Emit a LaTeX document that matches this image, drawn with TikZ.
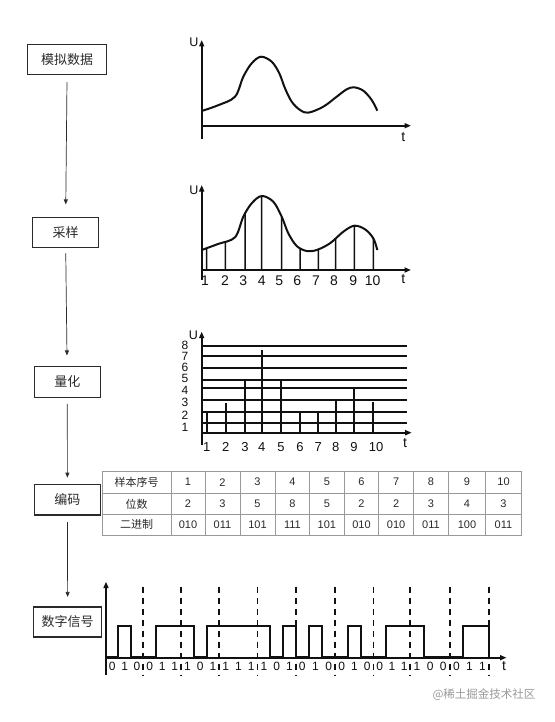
\documentclass[tikz,border=0pt]{standalone}
\usepackage{fontspec}
\setmainfont{Liberation Sans}
\newfontfamily\cjk{Noto Sans CJK SC}
\usetikzlibrary{arrows.meta,intersections}
\definecolor{ink}{HTML}{111111}
\definecolor{boxink}{HTML}{2A2A2A}
\definecolor{gridgray}{HTML}{999999}
\begin{document}
\begin{tikzpicture}[x=1pt,y=-1pt,
  stepbox/.style={draw=boxink, line width=1.1pt, minimum height=30pt, inner sep=0pt, text=boxink, font=\cjk\fontsize{13}{13}\selectfont},
  conn/.style={draw=boxink, line width=0.7pt, -{Triangle[length=5pt,width=4pt]}},
  axis/.style={draw=ink, line width=1.8pt, -{Triangle[length=6.5pt,width=5pt]}},
  wave/.style={draw=ink, line width=2pt, line join=round},
  sample/.style={draw=ink, line width=1.5pt},
  lvl/.style={draw=ink, line width=1.8pt},
  glab/.style={inner sep=0pt, text=ink, font=\fontsize{14}{14}\selectfont},
  ulab/.style={inner sep=0pt, text=ink, font=\fontsize{12.5}{12.5}\selectfont},
  qlab/.style={inner sep=0pt, text=ink, font=\fontsize{13}{13}\selectfont},
  llab/.style={inner sep=0pt, text=ink, font=\fontsize{12}{12}\selectfont},
  blab/.style={inner sep=0pt, text=ink, font=\fontsize{12}{12}\selectfont},
  tgrid/.style={draw=gridgray, line width=1pt},
  tcjk/.style={inner sep=0pt, text=boxink, font=\cjk\fontsize{11}{11}\selectfont},
  tnum/.style={inner sep=0pt, text=boxink, font=\fontsize{11}{11}\selectfont},
  clk/.style={draw=ink, line width=1.8pt, dash pattern=on 6pt off 5pt},
  wmark/.style={inner sep=0pt, text=black!40, font=\cjk\fontsize{11.5}{11.5}\selectfont},
]
\useasboundingbox (0,0) rectangle (554,722);
\fill[white] (0,0) rectangle (554,722);

% ---------- left flow ----------
\node[stepbox, minimum width=79pt] (m1) at (67.2,59.7) {模拟数据};
\node[stepbox, minimum width=66.4pt] (m2) at (65.5,232.3) {采样};
\node[stepbox, minimum width=66pt, minimum height=30.6pt] (m3) at (67.3,382) {量化};
\node[stepbox, minimum width=66pt, minimum height=30.8pt] (m4) at (67.4,499.6) {编码};
\node[stepbox, minimum width=68pt] (m5) at (67.7,622) {数字信号};

\draw[conn, shorten <=7pt, shorten >=12.3pt] (m1) -- (m2);
\draw[conn, shorten <=5.4pt, shorten >=10.7pt] (m2) -- (m3);
\draw[conn, shorten <=6pt, shorten >=6pt] (m3) -- (m4);
\draw[conn, shorten <=6.5pt, shorten >=9.5pt] (m4) -- (m5);

% ---------- graph 1: analog ----------
\draw[axis] (201.7,139.3) -- (201.7,40);
\draw[axis] (201.7,125.7) -- (411,125.7);
\node[ulab] (u1) at (194,42.7) {U};
\node[glab] (t1) at (403.3,137.3) {t};
\draw[wave] plot[smooth,tension=0.55] coordinates {
 (201.7,111) (218,105.3) (235,96.7) (243.3,76.7) (251.7,63.3) (261,56.7)
 (271.7,61.7) (279.3,73.3) (285,88.3) (291.7,101.7) (300,110) (308.3,112.7)
 (323.3,106.7) (336.7,96.7) (346.7,89.3) (354,87.3) (363.3,90.7) (371.7,100) (377.3,110.7)};

% ---------- graph 2: sampling ----------
\draw[axis] (201.7,280) -- (201.7,185);
\draw[axis] (201.7,270) -- (411,270);
\node[ulab] (u2) at (194,190.7) {U};
\node[glab] (t2) at (403.3,279.3) {t};
\draw[wave, name path=c2] plot[smooth,tension=0.55] coordinates {
 (201.7,250) (218,244) (235,237.3) (243.3,216.7) (251.7,203.3) (261.7,196)
 (273.3,201.7) (281.7,216.7) (288.3,233.3) (296.7,246) (306.7,251) (316.7,250)
 (330,243.3) (343.3,231.7) (354.3,225.7) (365,229.3) (373.3,238.3) (377.3,250)};
\foreach \x in {206.7,225.3,245,261.7,281.7,300,318.3,335.7,354.3,373.3} {
  \path[name path=vl] (\x,271) -- (\x,180);
  \draw[sample, name intersections={of=c2 and vl, by=ip}] (\x,270) -- (ip);
}
\foreach \x/\n in {205/1,225/2,243.3/3,261.7/4,279.3/5,297.3/6,316/7,334/8,353.3/9,372.7/10}
  \node[glab] (s\n) at (\x,280.5) {\n};

% ---------- graph 3: quantization ----------
\foreach \y in {345.7,355.7,367.7,380,388.3,400,411.7,423.3}
  \draw[lvl] (201.7,\y) -- (406.7,\y);
\draw[axis] (201.7,445) -- (201.7,331.7);
\draw[axis] (201.7,432.7) -- (411.7,432.7);
\node[ulab] (u3) at (193.3,335) {U};
\node[glab] (t3) at (405,442.7) {t};
\foreach \y/\n in {427.3/1,415/2,402/3,390/4,378.5/5,367/6,356.5/7,345.5/8}
  \node[llab] (q\n) at (185,\y) {\n};
\foreach \x/\y in {206.7/412.7,225.7/403.3,245/380,261.7/350,281/380,300/411.7,318.3/412.7,335.7/400,354/388.3,372.7/402.3}
  \draw[lvl] (\x,432.7) -- (\x,\y);
\foreach \x/\n in {206.7/1,225.7/2,245/3,261.7/4,281/5,300/6,318.3/7,335.7/8,354/9,376/10}
  \node[qlab] (r\n) at (\x,447) {\n};

% ---------- table ----------
\draw[tgrid] (102.3,471) rectangle (521.4,535);
\foreach \y in {493.3,514.3} \draw[tgrid] (102.3,\y) -- (521.4,\y);
\foreach \x in {171,205,240,275,309.7,344.1,378.9,413.3,448.4,485.6} \draw[tgrid] (\x,471) -- (\x,535);
\node[tcjk] (h1) at (136.7,482.2) {样本序号};
\node[tcjk] (h2) at (136.7,503.8) {位数};
\node[tcjk] (h3) at (136.7,524.7) {二进制};
\foreach \x/\a/\b/\c in {188/1/2/010,222.5/2/3/011,257.5/3/5/101,292.4/4/8/111,326.9/5/5/101,361.5/6/2/010,396.1/7/2/010,430.9/8/3/011,467/9/4/100,503.5/10/3/011} {
  \node[tnum] (ka\a) at (\x,482.2) {\a};
  \node[tnum] (kb\a) at (\x,503.8) {\b};
  \node[tnum] (kc\a) at (\x,524.7) {\c};
}

% ---------- graph 4: digital signal ----------
\foreach \x in {143.3,181.1,219.3,257.5,295.7,335.3,373.5,410.3,449.9,489.1}
  \draw[clk] (\x,586.7) -- (\x,675);
\draw[axis] (106,675) -- (106,581.7);
\draw[axis] (106,657.7) -- (506.5,657.7);
\node[glab] (t4) at (504,665.8) {t};
\draw[wave, line join=miter] (106,656.6) -- (118.43,656.6) -- (118.43,626) -- (130.87,626) -- (130.87,656.6)
  -- (155.9,656.6) -- (155.9,626) -- (193.83,626) -- (193.83,656.6)
  -- (206.57,656.6) -- (206.57,626) -- (270.23,626) -- (270.23,656.6)
  -- (282.97,656.6) -- (282.97,626) -- (295.7,626) -- (295.7,656.6)
  -- (308.9,656.6) -- (308.9,626) -- (322.1,626) -- (322.1,656.6)
  -- (348.03,656.6) -- (348.03,626) -- (360.77,626) -- (360.77,656.6)
  -- (385.77,656.6) -- (385.77,626) -- (423.5,626) -- (423.5,656.6)
  -- (462.97,656.6) -- (462.97,626) -- (489.1,626) -- (489.1,656.6);
\foreach \a/\b/\p/\q/\r [count=\g] in {106/143.3/0/1/0,143.3/181.1/0/1/1,181.1/219.3/1/0/1,219.3/257.5/1/1/1,257.5/295.7/1/0/1,295.7/335.3/0/1/0,335.3/373.5/0/1/0,373.5/410.3/0/1/1,410.3/449.9/1/0/0,449.9/489.1/0/1/1} {
  \pgfmathsetmacro\w{(\b-\a)/3}
  \node[blab] (d\g a) at ({\a+0.5*\w},666) {\p};
  \node[blab] (d\g b) at ({\a+1.5*\w},666) {\q};
  \node[blab] (d\g c) at ({\a+2.5*\w},666) {\r};
}

% ---------- watermark ----------
\node[wmark] (wm) at (484,694.8) {@稀土掘金技术社区};
\end{tikzpicture}
\end{document}
